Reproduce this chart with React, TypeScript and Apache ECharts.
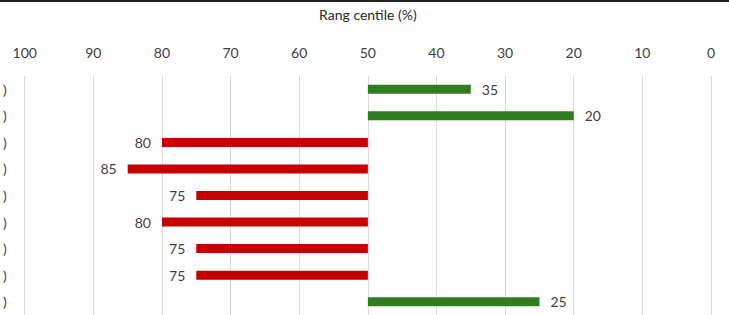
import React, { useEffect, useRef } from "react";
import * as echarts from "echarts";

const categories = [")", ")", ")", ")", ")", ")", ")", ")", ")"];
const values = [35, 20, 80, 85, 75, 80, 75, 75, 25];
const xTicks = [100, 90, 80, 70, 60, 50, 40, 30, 20, 10, 0];
const midpoint = 50;
const axisTitle = "Rang centile (%)";

const RED = "#C50000";
const GREEN = "#2F7D1F";

export default function App() {
  const ref = useRef<HTMLDivElement>(null);
  useEffect(() => {
    if (!ref.current) return;
    const chart = echarts.init(ref.current, null, { renderer: "svg" });
    const font = "Lato, 'Noto Sans', sans-serif";
    const base = values.map((v) => Math.min(v, midpoint));
    const span = values.map((v) => ({
      value: Math.abs(v - midpoint),
      itemStyle: { color: v > midpoint ? RED : GREEN },
      label: { position: v > midpoint ? "left" : "right" },
    }));
    chart.setOption({
      animation: false,
      backgroundColor: "#ffffff",
      grid: { left: 22, right: 18, top: 76, bottom: 0, containLabel: false },
      xAxis: {
        type: "value",
        position: "top",
        inverse: true,
        min: xTicks[xTicks.length - 1],
        max: xTicks[0],
        interval: 10,
        name: axisTitle,
        nameLocation: "middle",
        nameGap: 55,
        nameTextStyle: { fontSize: 14, color: "#262626", fontFamily: font },
        axisLine: { show: false },
        axisTick: { show: false },
        axisLabel: { fontSize: 14, color: "#404040", margin: 17, fontFamily: font },
        splitLine: { show: true, lineStyle: { color: "#d9d9d9", width: 1 } },
      },
      yAxis: {
        type: "category",
        inverse: true,
        data: categories,
        axisLine: { show: false },
        axisTick: { show: false },
        axisLabel: { interval: 0, fontSize: 14, color: "#404040", margin: 18, fontFamily: font },
        splitLine: { show: false },
      },
      series: [
        {
          type: "bar",
          stack: "s",
          data: base,
          itemStyle: { color: "transparent" },
          barWidth: 9,
          silent: true,
        },
        {
          type: "bar",
          stack: "s",
          data: span,
          barWidth: 9,
          label: {
            show: true,
            distance: 11,
            fontSize: 14,
            color: "#404040",
            fontFamily: font,
            formatter: (p: any) => String(values[p.dataIndex]),
          },
        },
      ],
      graphic: [
        {
          type: "rect",
          left: 0,
          top: 0,
          shape: { width: 729, height: 2 },
          style: { fill: "#222222" },
        },
      ],
    });
    return () => chart.dispose();
  }, []);
  return (
    <div
      ref={ref}
      style={{ position: "fixed", left: 0, top: 0, width: 729, height: 315 }}
    />
  );
}
